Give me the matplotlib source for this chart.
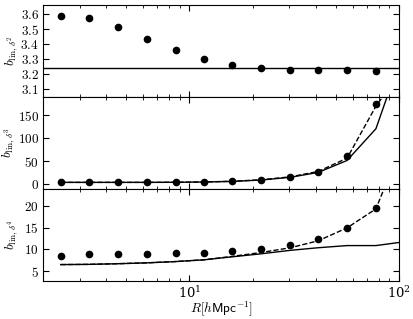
import matplotlib
matplotlib.use("Agg")
import matplotlib.pyplot as plt
import numpy as np

plt.rcParams['mathtext.fontset'] = 'cm'
plt.rcParams['font.family'] = 'serif'
plt.rcParams['font.serif'] = ['DejaVu Serif']

R = [2.43, 3.30, 4.54, 6.24, 8.58, 11.7, 16.0, 22.0, 30.3, 41.1, 56.5, 77.6]
R_line = R + [106.7]

b2_pts = [3.585, 3.571, 3.513, 3.435, 3.36, 3.302, 3.262, 3.240, 3.229, 3.227, 3.227, 3.222]
b2_line = 3.24

b3_pts = [4.4, 4.4, 4.4, 4.4, 4.4, 5.7, 7.0, 10.0, 16.7, 27.6, 61.0, 174.0]
b3_solid = [4.4, 4.4, 4.4, 4.4, 4.6, 5.2, 6.5, 9.5, 15.5, 26.0, 52.0, 121.0, 301.0]
b3_dashed = [4.4, 4.4, 4.4, 4.4, 4.6, 5.3, 6.8, 10.0, 16.5, 28.0, 57.0, 170.0, 256.0]

b4_pts = [8.5, 8.9, 9.0, 9.0, 9.1, 9.2, 9.6, 10.1, 11.0, 12.4, 15.0, 19.6]
b4_solid = [6.5, 6.55, 6.7, 6.9, 7.2, 7.6, 8.3, 9.0, 9.8, 10.4, 10.9, 10.9, 11.8]
b4_dashed = [6.5, 6.55, 6.7, 6.9, 7.2, 7.6, 8.4, 9.3, 10.4, 12.0, 15.0, 19.4, 36.0]

fig = plt.figure(figsize=(4.13, 3.19), dpi=100)
L, W = 43/413, (399-43)/413
ys = [5, 97, 189, 281]
axes = []
for i in range(3):
    b = 1 - ys[i+1]/319
    h = (ys[i+1]-ys[i])/319
    axes.append(fig.add_axes([L, b, W, h]))

fs = 9.5
for ax in axes:
    ax.set_xscale('log')
    ax.set_xlim(2.0, 100)
    ax.tick_params(which='both', direction='in', top=True, right=True, labelsize=fs)
    ax.tick_params(which='major', length=4, pad=3)
    ax.tick_params(which='minor', length=2)

ax1, ax2, ax3 = axes
ax1.plot(R, b2_pts, 'ko', ms=4.5)
ax1.axhline(b2_line, color='k', lw=1)
ax1.set_ylim(3.05, 3.66)
ax1.set_yticks([3.1, 3.2, 3.3, 3.4, 3.5, 3.6])
ax1.set_ylabel(r'$b_{\rm lin,\delta^2}$', fontsize=fs)

ax2.plot(R, b3_pts, 'ko', ms=4.5)
ax2.plot(R_line, b3_solid, 'k-', lw=1)
ax2.plot(R_line, b3_dashed, 'k--', lw=1)
ax2.set_ylim(-10, 190)
ax2.set_yticks([0, 50, 100, 150])
ax2.set_ylabel(r'$b_{\rm lin,\delta^3}$', fontsize=fs)

ax3.plot(R, b4_pts, 'ko', ms=4.5)
ax3.plot(R_line, b4_solid, 'k-', lw=1)
ax3.plot(R_line, b4_dashed, 'k--', lw=1)
ax3.set_ylim(2.7, 24)
ax3.set_yticks([5, 10, 15, 20])
ax3.set_ylabel(r'$b_{\rm lin,\delta^4}$', fontsize=fs)
ax3.set_xlabel(r'$R[h\mathsf{Mpc}^{-1}]$', fontsize=fs)
ax3.xaxis.set_label_coords(0.5, -(299-281)/92)

for ax in (ax1, ax2):
    ax.tick_params(labelbottom=False)
for ax in axes:
    ax.yaxis.set_major_formatter(matplotlib.ticker.FuncFormatter(lambda v, p: r'$%g$' % v))
ax1.yaxis.set_label_coords(-(43-20)/356, 0.5)
ax2.yaxis.set_label_coords(-(43-17)/356, 0.5)
ax3.yaxis.set_label_coords(-(43-20)/356, 0.5)

fig.savefig('out.png', dpi=100)
